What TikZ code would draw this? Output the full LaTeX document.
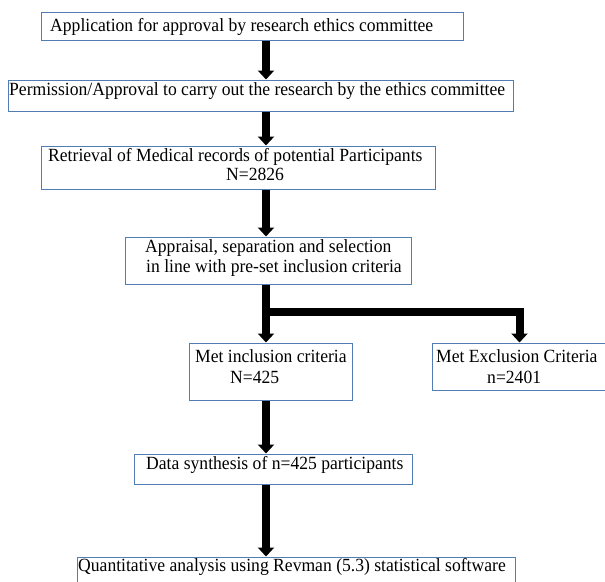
\documentclass[tikz,border=0pt]{standalone}
\usepackage{fontspec}
\setmainfont{Liberation Serif}[FakeStretch=0.946]
\usetikzlibrary{arrows.meta}
\definecolor{boxline}{RGB}{80,125,180}
\begin{document}
\begin{tikzpicture}[x=1pt,y=-1pt,
  box/.style={draw=boxline, line width=1pt, inner sep=0pt, fill=white},
  txt/.style={anchor=base west, inner sep=0pt, font=\fontsize{18.6}{20}\selectfont},
  arr/.style={draw=black, line width=8pt, line join=miter, -{Triangle[width=16pt,length=9pt]}}]
\useasboundingbox (0,0) rectangle (605,581);
\clip (0,0) rectangle (605,581);
\fill[white] (0,0) rectangle (605,581);
% boxes
\node[box, minimum width=422pt, minimum height=28pt] (b1) at (252,26) {};
\node[box, minimum width=505pt, minimum height=31pt] (b2) at (260.5,95.5) {};
\node[box, minimum width=394pt, minimum height=43pt] (b3) at (238,167.5) {};
\node[box, minimum width=286pt, minimum height=47pt] (b4) at (268,260.5) {};
\node[box, minimum width=163pt, minimum height=57pt] (b5) at (270.5,371.5) {};
\node[box, minimum width=178pt, minimum height=47pt] (b6) at (521,366.5) {};
\node[box, minimum width=278pt, minimum height=30pt] (b7) at (273,469) {};
\node[box, minimum width=438pt, minimum height=40pt] (b8) at (296,577) {};
% texts
\node[txt] (t1) at (50,31) {Application for approval by research ethics committee};
\node[txt] (t2) at (9,95) {Permission/Approval to carry out the research by the ethics committee};
\node[txt] (t3a) at (48,161) {Retrieval of Medical records of potential Participants};
\node[txt] (t3b) at (226,180) {N=2826};
\node[txt] (t4a) at (145,252) {Appraisal, separation and selection};
\node[txt] (t4b) at (146,272) {in line with pre-set inclusion criteria};
\node[txt] (t5a) at (195,362) {Met inclusion criteria};
\node[txt] (t5b) at (230,383) {N=425};
\node[txt] (t6a) at (436,362) {Met Exclusion Criteria};
\node[txt] (t6b) at (487,383) {n=2401};
\node[txt] (t7) at (146,469) {Data synthesis of n=425 participants};
\node[txt] (t8) at (78,571) {Quantitative analysis using Revman (5.3) statistical software};
% connectors
\coordinate (ax) at (266,0);
\coordinate (bx) at (519.5,0);
\coordinate (j) at (266,311.5);
\draw[arr] (b1.south -| ax) -- (b2.north -| ax);
\draw[arr] (b2.south -| ax) -- (b3.north -| ax);
\draw[arr] (b3.south -| ax) -- (b4.north -| ax);
\draw[arr] (b4.south -| ax) -- (b5.north -| ax);
\draw[arr] (j) -| (b6.north -| bx);
\draw[arr] (b5.south -| ax) -- (b7.north -| ax);
\draw[arr] (b7.south -| ax) -- (b8.north -| ax);
\end{tikzpicture}
\end{document}
